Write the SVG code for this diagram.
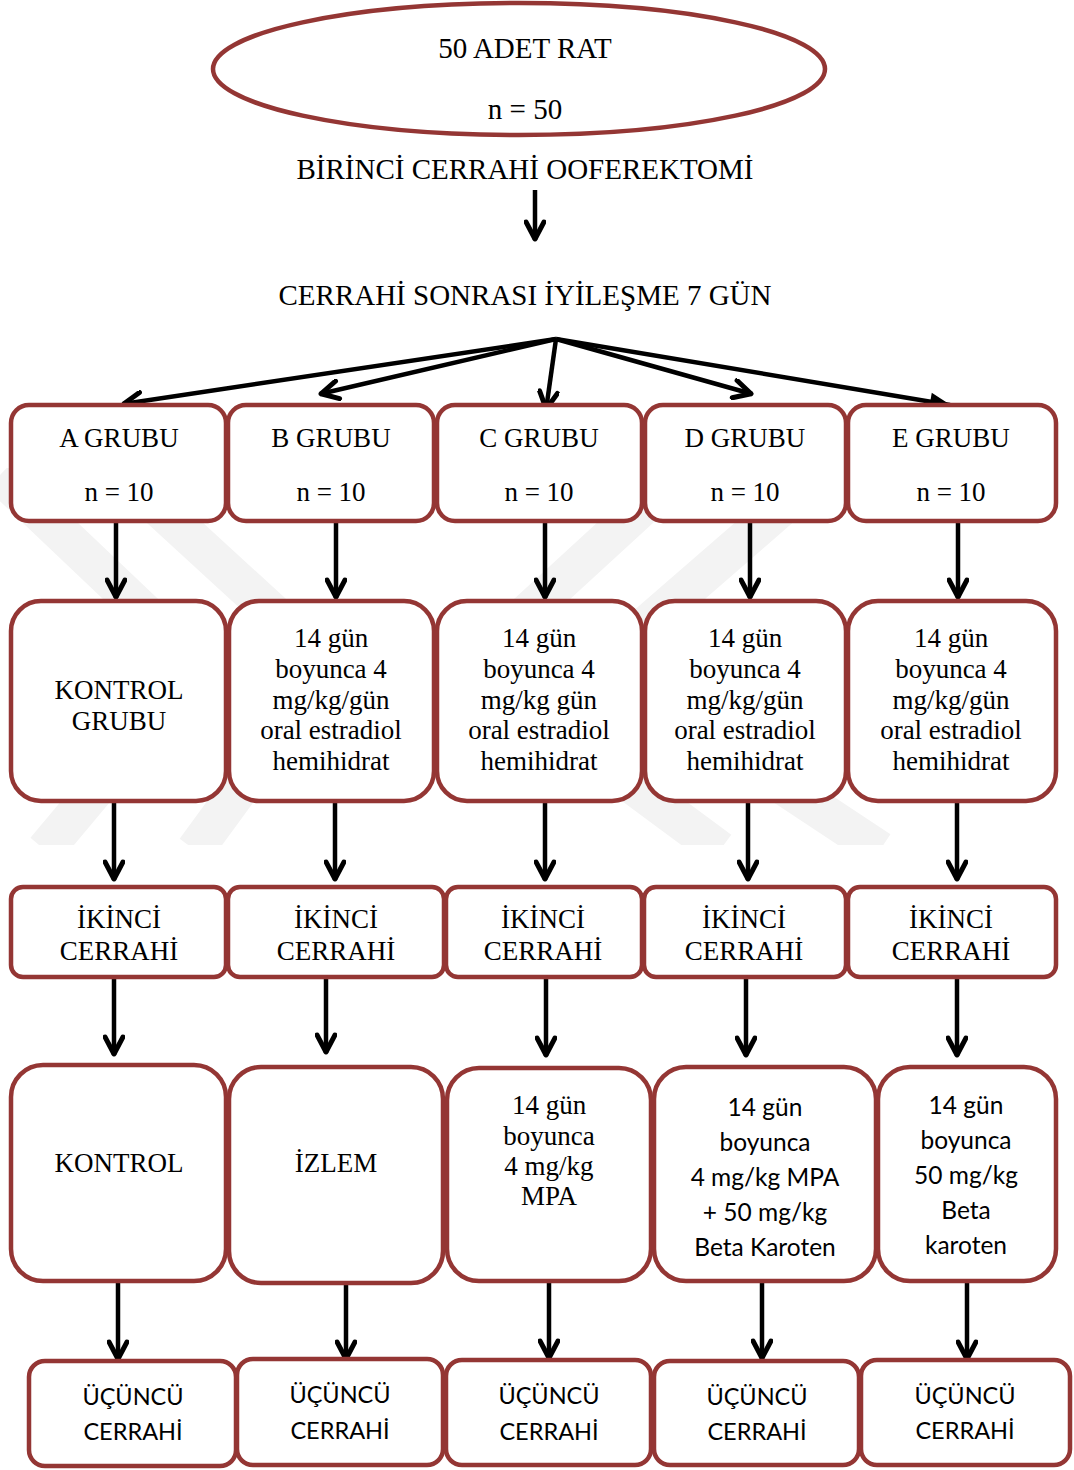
<svg xmlns="http://www.w3.org/2000/svg" width="1074" height="1470" viewBox="0 0 1074 1470">
<style>
.box{fill:#fff;stroke:#943634;stroke-width:4.5}
.t{font-family:"Liberation Serif","Times New Roman",serif;font-size:27px;fill:#000;text-anchor:middle}
.tl{font-family:"Liberation Serif","Times New Roman",serif;font-size:29px;fill:#000;text-anchor:middle}
.c{font-family:Lato,"Open Sans","Liberation Sans",sans-serif;font-size:24.5px;fill:#000;text-anchor:middle}
.c2{font-family:Lato,"Open Sans","Liberation Sans",sans-serif;font-size:23.5px;fill:#000;text-anchor:middle}
.ar{stroke:#000;stroke-width:4.5;fill:none;marker-end:url(#ah)}
.wm{stroke:#f3f3f3;stroke-width:38;fill:none}
</style>
<defs>
<marker id="ah" viewBox="0 0 24 22" refX="21" refY="11" markerWidth="24" markerHeight="22" orient="auto" markerUnits="userSpaceOnUse">
<path d="M3,2 L20,11 L3,20" fill="none" stroke="#000" stroke-width="5" stroke-linecap="round" stroke-linejoin="round"/>
</marker>
<marker id="ahf" viewBox="0 0 24 22" refX="22" refY="11" markerWidth="24" markerHeight="22" orient="auto" markerUnits="userSpaceOnUse">
<path d="M2,2 L23,11 L2,20 Z" fill="#000"/>
</marker>
<clipPath id="wmc"><rect x="0" y="468" width="1074" height="377"/></clipPath>
</defs>
<rect width="1074" height="1470" fill="#fff"/>
<g id="watermark" clip-path="url(#wmc)">
<path class="wm" d="M0,475 L200,665 L45,850"/>
<path class="wm" d="M150,500 L330,665 L195,850"/>
<path class="wm" d="M650,500 L470,665 L720,850"/>
<path class="wm" d="M790,500 L600,665 L880,850"/>
</g>
<g id="connectors">
<line class="ar" x1="535" y1="190" x2="535" y2="240"/>
<line class="ar" x1="556" y1="339" x2="123" y2="404"/>
<line class="ar" x1="556" y1="339" x2="320" y2="394"/>
<line class="ar" x1="556" y1="339" x2="546" y2="410"/>
<line class="ar" x1="556" y1="339" x2="752" y2="394"/>
<line x1="556" y1="339" x2="950" y2="405" stroke="#000" stroke-width="4.5" marker-end="url(#ahf)"/>
<line class="ar" x1="116" y1="521" x2="116" y2="598"/>
<line class="ar" x1="336" y1="521" x2="336" y2="598"/>
<line class="ar" x1="545" y1="521" x2="545" y2="598"/>
<line class="ar" x1="750" y1="521" x2="750" y2="598"/>
<line class="ar" x1="958" y1="521" x2="958" y2="598"/>
<line class="ar" x1="114" y1="801" x2="114" y2="880"/>
<line class="ar" x1="335" y1="801" x2="335" y2="880"/>
<line class="ar" x1="545" y1="801" x2="545" y2="880"/>
<line class="ar" x1="748" y1="801" x2="748" y2="880"/>
<line class="ar" x1="957" y1="801" x2="957" y2="880"/>
<line class="ar" x1="114" y1="977" x2="114" y2="1055"/>
<line class="ar" x1="326" y1="977" x2="326" y2="1053"/>
<line class="ar" x1="546" y1="977" x2="546" y2="1056"/>
<line class="ar" x1="746" y1="977" x2="746" y2="1056"/>
<line class="ar" x1="957" y1="977" x2="957" y2="1056"/>
<line class="ar" x1="118" y1="1282" x2="118" y2="1360"/>
<line class="ar" x1="346" y1="1283" x2="346" y2="1360"/>
<line class="ar" x1="549" y1="1282" x2="549" y2="1359"/>
<line class="ar" x1="762" y1="1282" x2="762" y2="1359"/>
<line class="ar" x1="967" y1="1282" x2="967" y2="1360"/>
</g>
<g id="start">
<ellipse cx="519" cy="69" rx="306" ry="66" fill="#fff" stroke="#943634" stroke-width="4.5"/>
<text class="tl" x="525" y="58">50 ADET RAT</text>
<text class="tl" x="525" y="119">n = 50</text>
</g>
<g id="step1"><text class="tl" x="525" y="179">BİRİNCİ CERRAHİ OOFEREKTOMİ</text></g>
<g id="step2"><text class="tl" x="525" y="305">CERRAHİ SONRASI İYİLEŞME 7 GÜN</text></g>
<g id="grpA"><rect class="box" x="11" y="405" width="215" height="116" rx="18"/><text class="t" x="119" y="447">A GRUBU</text><text class="t" x="119" y="501">n = 10</text></g>
<g id="grpB"><rect class="box" x="228" y="405" width="206" height="116" rx="18"/><text class="t" x="331" y="447">B GRUBU</text><text class="t" x="331" y="501">n = 10</text></g>
<g id="grpC"><rect class="box" x="437" y="405" width="205" height="116" rx="18"/><text class="t" x="539" y="447">C GRUBU</text><text class="t" x="539" y="501">n = 10</text></g>
<g id="grpD"><rect class="box" x="645" y="405" width="201" height="116" rx="18"/><text class="t" x="745" y="447">D GRUBU</text><text class="t" x="745" y="501">n = 10</text></g>
<g id="grpE"><rect class="box" x="848" y="405" width="208" height="116" rx="18"/><text class="t" x="951" y="447">E GRUBU</text><text class="t" x="951" y="501">n = 10</text></g>
<g id="trtA"><rect class="box" x="11" y="601" width="215" height="200" rx="30"/><text class="t" x="119" y="699">KONTROL</text><text class="t" x="119" y="730">GRUBU</text></g>
<g id="trtB"><rect class="box" x="229" y="601" width="205" height="200" rx="30"/><text class="t" x="331" y="647">14 gün</text><text class="t" x="331" y="678">boyunca 4</text><text class="t" x="331" y="709">mg/kg/gün</text><text class="t" x="331" y="739">oral estradiol</text><text class="t" x="331" y="770">hemihidrat</text></g>
<g id="trtC"><rect class="box" x="437" y="601" width="205" height="200" rx="30"/><text class="t" x="539" y="647">14 gün</text><text class="t" x="539" y="678">boyunca 4</text><text class="t" x="539" y="709">mg/kg gün</text><text class="t" x="539" y="739">oral estradiol</text><text class="t" x="539" y="770">hemihidrat</text></g>
<g id="trtD"><rect class="box" x="645" y="601" width="201" height="200" rx="30"/><text class="t" x="745" y="647">14 gün</text><text class="t" x="745" y="678">boyunca 4</text><text class="t" x="745" y="709">mg/kg/gün</text><text class="t" x="745" y="739">oral estradiol</text><text class="t" x="745" y="770">hemihidrat</text></g>
<g id="trtE"><rect class="box" x="848" y="601" width="208" height="200" rx="30"/><text class="t" x="951" y="647">14 gün</text><text class="t" x="951" y="678">boyunca 4</text><text class="t" x="951" y="709">mg/kg/gün</text><text class="t" x="951" y="739">oral estradiol</text><text class="t" x="951" y="770">hemihidrat</text></g>
<g id="surgA"><rect class="box" x="11" y="887" width="215" height="90" rx="12"/><text class="t" x="119" y="928">İKİNCİ</text><text class="t" x="119" y="960">CERRAHİ</text></g>
<g id="surgB"><rect class="box" x="228" y="887" width="216" height="90" rx="12"/><text class="t" x="336" y="928">İKİNCİ</text><text class="t" x="336" y="960">CERRAHİ</text></g>
<g id="surgC"><rect class="box" x="446" y="887" width="196" height="90" rx="12"/><text class="t" x="543" y="928">İKİNCİ</text><text class="t" x="543" y="960">CERRAHİ</text></g>
<g id="surgD"><rect class="box" x="644" y="887" width="202" height="90" rx="12"/><text class="t" x="744" y="928">İKİNCİ</text><text class="t" x="744" y="960">CERRAHİ</text></g>
<g id="surgE"><rect class="box" x="848" y="887" width="208" height="90" rx="12"/><text class="t" x="951" y="928">İKİNCİ</text><text class="t" x="951" y="960">CERRAHİ</text></g>
<g id="postA"><rect class="box" x="11" y="1065" width="215" height="216" rx="32"/><text class="t" x="119" y="1172">KONTROL</text></g>
<g id="postB"><rect class="box" x="229" y="1067" width="214" height="216" rx="32"/><text class="t" x="336" y="1172">İZLEM</text></g>
<g id="postC"><rect class="box" x="447" y="1068" width="204" height="213" rx="32"/><text class="t" x="549" y="1114">14 gün</text><text class="t" x="549" y="1145">boyunca</text><text class="t" x="549" y="1175">4 mg/kg</text><text class="t" x="549" y="1205">MPA</text></g>
<g id="postD"><rect class="box" x="654" y="1067" width="222" height="214" rx="32"/><text class="c" x="765" y="1116">14 gün</text><text class="c" x="765" y="1151">boyunca</text><text class="c" x="765" y="1186">4 mg/kg MPA</text><text class="c" x="765" y="1221">+ 50 mg/kg</text><text class="c" x="765" y="1256">Beta Karoten</text></g>
<g id="postE"><rect class="box" x="878" y="1067" width="178" height="214" rx="32"/><text class="c" x="966" y="1114">14 gün</text><text class="c" x="966" y="1149">boyunca</text><text class="c" x="966" y="1184">50 mg/kg</text><text class="c" x="966" y="1219">Beta</text><text class="c" x="966" y="1254">karoten</text></g>
<g id="thirdA"><rect class="box" x="29" y="1361" width="207" height="105" rx="16"/><text class="c2" x="133" y="1405">ÜÇÜNCÜ</text><text class="c2" x="133" y="1440">CERRAHİ</text></g>
<g id="thirdB"><rect class="box" x="237" y="1359" width="206" height="106" rx="16"/><text class="c2" x="340" y="1403">ÜÇÜNCÜ</text><text class="c2" x="340" y="1439">CERRAHİ</text></g>
<g id="thirdC"><rect class="box" x="446" y="1360" width="205" height="105" rx="16"/><text class="c2" x="549" y="1404">ÜÇÜNCÜ</text><text class="c2" x="549" y="1440">CERRAHİ</text></g>
<g id="thirdD"><rect class="box" x="654" y="1361" width="205" height="104" rx="16"/><text class="c2" x="757" y="1405">ÜÇÜNCÜ</text><text class="c2" x="757" y="1440">CERRAHİ</text></g>
<g id="thirdE"><rect class="box" x="861" y="1360" width="209" height="105" rx="16"/><text class="c2" x="965" y="1404">ÜÇÜNCÜ</text><text class="c2" x="965" y="1439">CERRAHİ</text></g>
</svg>
